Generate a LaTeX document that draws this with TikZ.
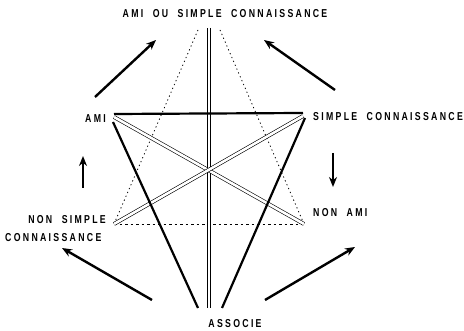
\documentclass[tikz,border=0pt]{standalone}
\usepackage{fontspec}
\setmainfont{Liberation Sans}[LetterSpace=20, FakeStretch=0.76, WordSpace=2]
\usetikzlibrary{arrows.meta}
\begin{document}
\begin{tikzpicture}[x=1pt,y=-1pt,
  lab/.style={font=\bfseries\fontsize{11.5}{12}\selectfont, inner sep=0pt},
  thickline/.style={line width=2.2pt},
  dbl/.style={double, double distance=2.6pt, line width=0.6pt},
  dotline/.style={dash pattern=on 1.2pt off 3pt, line width=0.8pt},
  dashline/.style={dash pattern=on 2.5pt off 3pt, line width=0.7pt},
  bigarrow/.style={line width=2.4pt, -{Stealth[length=10pt,width=8pt]}}]
\useasboundingbox (0,0) rectangle (464,331);
% labels
\node[lab] (top) at (225,14) {AMI OU SIMPLE CONNAISSANCE};
\node[lab, anchor=east] (ami) at (106,119) {AMI};
\node[lab, anchor=west] (sc) at (313,117) {SIMPLE CONNAISSANCE};
\node[lab, anchor=east] (nsc1) at (106,220) {NON SIMPLE};
\node[lab, anchor=west] (nsc2) at (5,238) {CONNAISSANCE};
\node[lab, anchor=west] (na) at (313,213) {NON AMI};
\node[lab] (assoc) at (235,324) {ASSOCIE};
% vertices
\coordinate (A) at (114,114);
\coordinate (S) at (303,113);
\coordinate (N) at (114,224);
\coordinate (M) at (304,224);
\coordinate (TL) at (198,30);
\coordinate (TR) at (220,30);
\coordinate (VT) at (209,28);
\coordinate (VB) at (209,308);
\coordinate (BL) at (198,308);
\coordinate (BR) at (222,308);
\coordinate (A2) at (113,122);
\coordinate (S2) at (305,118);
% lines
\draw[dotline] (TL) -- (N);
\draw[dotline] (TR) -- (M);
\draw[dashline] (N) -- (M);
\draw[dbl] (VT) -- (VB);
\draw[dbl] (A) ++(0,3) -- (M);
\draw[dbl] (S) ++(0,3) -- (N);
\draw[thickline] (A) -- (S);
\draw[thickline] (A2) -- (BL);
\draw[thickline] (S2) -- (BR);
% arrows
\coordinate (a1s) at (95,97); \coordinate (a1e) at (156,40);
\coordinate (a2s) at (335,90); \coordinate (a2e) at (264,40);
\coordinate (a3s) at (83,188); \coordinate (a3e) at (83,156);
\coordinate (a4s) at (333,153); \coordinate (a4e) at (333,187);
\coordinate (a5s) at (152,300); \coordinate (a5e) at (62,248);
\coordinate (a6s) at (265,300); \coordinate (a6e) at (355,247);
\draw[bigarrow] (a1s) -- (a1e);
\draw[bigarrow] (a2s) -- (a2e);
\draw[bigarrow] (a3s) -- (a3e);
\draw[bigarrow] (a4s) -- (a4e);
\draw[bigarrow] (a5s) -- (a5e);
\draw[bigarrow] (a6s) -- (a6e);
\end{tikzpicture}
\end{document}
